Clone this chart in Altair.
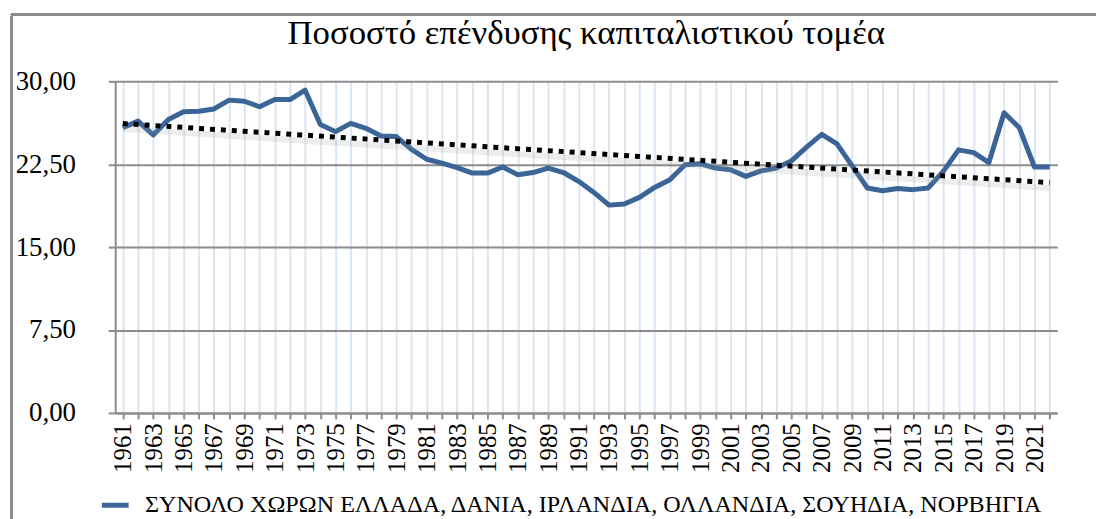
import altair as alt
import pandas as pd

years = list(range(1961, 2023))
values = [25.8, 26.4, 25.15, 26.55, 27.25, 27.3, 27.5, 28.3, 28.2, 27.7, 28.35, 28.35, 29.2, 26.1, 25.45, 26.2, 25.75, 25.05, 25.0,
          23.85, 22.95, 22.6, 22.2, 21.7, 21.7, 22.25, 21.55, 21.75, 22.15, 21.75, 20.95, 19.95, 18.8, 18.9, 19.5, 20.4, 21.1, 22.45, 22.55, 22.15, 22.0, 21.4, 21.9,
          22.15, 22.8, 24.05, 25.2, 24.35, 22.35, 20.35, 20.1, 20.3, 20.2, 20.35, 21.85, 23.8, 23.55, 22.65, 27.15, 25.8, 22.25, 22.25]
series_name = "ΣΥΝΟΛΟ ΧΩΡΩΝ ΕΛΛΑΔΑ, ΔΑΝΙΑ, ΙΡΛΑΝΔΙΑ, ΟΛΛΑΝΔΙΑ, ΣΟΥΗΔΙΑ, ΝΟΡΒΗΓΙΑ"
title_text = "Ποσοστό επένδυσης καπιταλιστικού τομέα"
y_ticks = [0, 7.5, 15, 22.5, 30]

df = pd.DataFrame({"year": years, "value": values, "series": [series_name] * len(years)})

FONT = "Liberation Serif"
W, H = 949, 334

x_enc = alt.X("year:Q", scale=alt.Scale(domain=[1960.5, 2022.5], nice=False, zero=False),
              axis=alt.Axis(values=years, tickCount=200,
                            labelExpr="datum.value % 2 == 1 ? '' + datum.value : ''",
                            labelAngle=270, labelOverlap=False, labelFlush=False, title=None,
                            grid=True, gridColor="#dce6f2", gridWidth=2,
                            domainColor="#8c8c8c", domainWidth=2, tickColor="#8c8c8c", tickWidth=2, tickSize=6,
                            labelFont=FONT, labelFontSize=25, labelColor="#000", labelPadding=4))
y_enc = alt.Y("value:Q", scale=alt.Scale(domain=[0, 30], nice=False),
              axis=alt.Axis(values=y_ticks, labelExpr="replace(format(datum.value, '.2f'), '.', ',')",
                            title=None, grid=True, gridColor="#8c8c8c", gridWidth=2,
                            domainColor="#8c8c8c", domainWidth=2, tickColor="#8c8c8c", tickWidth=2, tickSize=7,
                            labelFont=FONT, labelFontSize=27, labelColor="#000", labelPadding=33))

base = alt.Chart(df)

border = base.mark_rect(fillOpacity=0, stroke="#8c8c8c", strokeWidth=2).encode(
    x=alt.value(-104), x2=alt.value(1010), y=alt.value(-67), y2=alt.value(460))

title = alt.Chart(pd.DataFrame({"t": [title_text]})).mark_text(
    font=FONT, fontSize=35, color="#000", align="center", baseline="middle").encode(
    text="t:N", x=alt.value(W / 2), y=alt.value(-49))

shadow = base.transform_regression("year", "value").transform_calculate(
    value="datum.value - 0.5").mark_line(color="#9a9a9a", strokeWidth=6, opacity=0.18).encode(
    x=alt.X("year:Q"), y=alt.Y("value:Q"))

trend = base.transform_regression("year", "value").mark_line(
    color="#000000", strokeWidth=5, strokeDash=[5, 6]).encode(x=alt.X("year:Q"), y=alt.Y("value:Q"))

line = base.mark_line(strokeWidth=5, strokeJoin="round").encode(
    x=x_enc, y=y_enc,
    color=alt.Color("series:N", scale=alt.Scale(range=["#3a6596"]),
                    legend=alt.Legend(title=None, orient="none", legendX=-16, legendY=411,
                                      symbolType="stroke", symbolSize=729, symbolStrokeWidth=5,
                                      labelOffset=14,
                                      labelFont=FONT, labelFontSize=24.3, labelColor="#000", labelLimit=2000)))

chart = alt.layer(line, shadow, trend, border, title).properties(
    width=W, height=H,
    padding={"left": 108, "top": 72, "right": 39, "bottom": 105},
    autosize=alt.AutoSizeParams(type="none"),
).configure_view(stroke=None)

chart.save("out.html", embed_options={"renderer": "svg", "actions": False})
